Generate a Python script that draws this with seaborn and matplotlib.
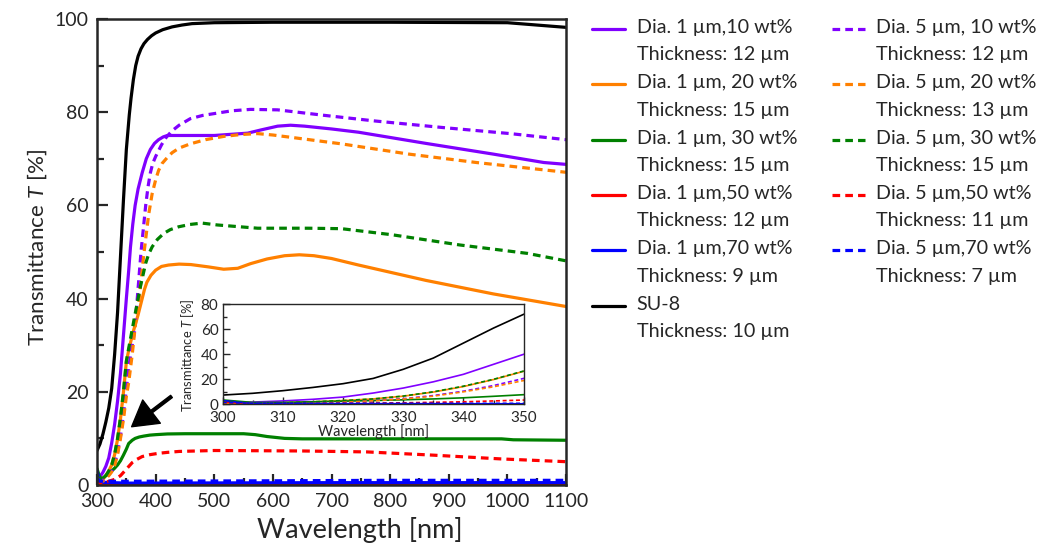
import numpy as np
import seaborn as sns
from matplotlib import pyplot as plt
from matplotlib.legend_handler import HandlerLine2D
from matplotlib.lines import Line2D
from matplotlib.ticker import MultipleLocator

# * wavelength [nm] / transmittance [%]
wl_su8 = [300, 305, 310, 315, 320, 325, 330, 335, 340, 345, 350, 355, 358, 362, 366, 370, 375, 380, 386, 393, 400, 412, 428, 445, 462, 500, 600, 800, 1000, 1040, 1100]
t_su8 = [7.4, 8.8, 10.9, 13.5, 16.5, 20.7, 28, 37, 49, 61, 72, 79.4, 83, 87, 90, 92, 93.6, 94.7, 95.6, 96.4, 97, 97.7, 98.3, 98.7, 99, 99.2, 99.3, 99.3, 99.2, 98.8, 98.2]

wl_p1 = [300, 305, 310, 315, 320, 325, 330, 335, 340, 345, 350, 354, 357, 361, 365, 370, 377, 384, 391, 398, 405, 413, 420, 460, 500, 557, 580, 608, 630, 654, 700, 746, 861, 976, 1062, 1100]
t_p1 = [1.5, 1.8, 2.7, 4, 5.8, 9, 13, 18, 24, 32, 40, 46, 51, 56, 60, 63.5, 67, 70, 72, 73.3, 74.1, 74.7, 75, 75, 75, 75.5, 76.2, 77, 77.2, 77, 76.4, 75.7, 73.3, 71.0, 69.2, 68.8]

wl_o1 = [300, 305, 310, 315, 320, 325, 330, 335, 340, 345, 350, 355, 362, 370, 377, 381, 385, 392, 400, 410, 422, 440, 460, 490, 516, 540, 562, 590, 620, 645, 670, 700, 746, 861, 976, 1100]
t_o1 = [0.8, 0.8, 1.2, 2, 3, 4.3, 6.5, 9.8, 14.2, 19.8, 26.4, 29.5, 33, 36.5, 40, 42, 43.5, 45, 46.1, 46.9, 47.2, 47.4, 47.3, 46.8, 46.3, 46.5, 47.5, 48.5, 49.2, 49.4, 49.2, 48.6, 47.2, 43.9, 41.0, 38.3]

wl_g1 = [300, 305, 310, 315, 320, 325, 330, 335, 340, 345, 350, 354, 360, 365, 372, 380, 390, 400, 420, 450, 550, 570, 590, 620, 650, 990, 1010, 1100]
t_g1 = [3.5, 1.5, 1.5, 2, 2.5, 3, 3.6, 4.3, 5.2, 6.4, 7.7, 8.9, 9.6, 10, 10.3, 10.5, 10.7, 10.8, 10.95, 11, 11, 10.8, 10.4, 10, 9.9, 9.9, 9.7, 9.6]

wl_r1 = [300, 305, 350, 600, 1100]
t_r1 = [2.0, 0.3, 0.2, 0.2, 0.2]

wl_b1 = [300, 305, 350, 700, 1100]
t_b1 = [3.0, 0.6, 0.4, 0.5, 0.5]

wl_p5 = [300, 305, 310, 315, 320, 325, 330, 335, 340, 345, 350, 355, 360, 364, 368, 375, 383, 387, 391, 395, 400, 410, 418, 428, 440, 459, 480, 505, 530, 562, 608, 689, 775, 890, 1005, 1100]
t_p5 = [1, 0.8, 1, 1.5, 2.2, 3, 4.5, 7, 10.5, 15, 20.7, 26, 30, 33, 39, 50, 60, 64, 67, 69, 70.5, 73, 74.6, 76, 77.2, 78.6, 79.3, 79.8, 80.3, 80.6, 80.5, 79.3, 78.1, 76.7, 75.4, 74.1]

wl_o5 = [300, 305, 310, 315, 320, 325, 330, 335, 340, 345, 350, 354, 360, 366, 371, 380, 388, 394, 400, 405, 411, 420, 428, 440, 459, 485, 516, 545, 574, 600, 631, 717, 832, 947, 1100]
t_o5 = [0.8, 0.6, 0.8, 1.3, 2, 2.8, 4.2, 6.5, 10, 14, 19, 22, 28, 35, 39, 49.7, 58, 62.5, 65.5, 67.5, 69, 70.3, 71.3, 72.3, 73.2, 74.1, 74.8, 75.2, 75.4, 75.1, 74.6, 73.2, 71.0, 69.2, 67.1]

wl_g5 = [300, 305, 310, 315, 320, 325, 330, 335, 340, 345, 350, 355, 363, 374, 383, 388, 394, 403, 414, 425, 439, 458, 479, 505, 574, 660, 717, 803, 919, 1034, 1100]
t_g5 = [2, 1, 1.2, 2, 3, 4.3, 6.6, 10, 14.5, 20, 26.6, 30, 35.4, 42.6, 47.6, 49.5, 51.1, 52.7, 54, 54.8, 55.4, 55.9, 56.2, 55.8, 55.1, 55.1, 55.0, 53.7, 51.5, 49.7, 48.1]

wl_r5 = [300, 305, 310, 315, 320, 325, 330, 335, 340, 345, 350, 355, 360, 368, 377, 390, 405, 420, 440, 500, 650, 760, 874, 988, 1100]
t_r5 = [1.5, 0.5, 0.5, 0.6, 0.8, 1, 1.2, 1.6, 2.0, 2.7, 3.4, 4.1, 4.8, 5.5, 6.1, 6.5, 6.8, 7.0, 7.2, 7.4, 7.3, 7.1, 6.4, 5.6, 5.0]

wl_b5 = [300, 305, 350, 600, 800, 1100]
t_b5 = [1.5, 0.8, 0.8, 0.9, 1.0, 1.0]

labels_1um = [
    "Dia. 1 µm,10 wt%\nThickness: 12 µm",
    "Dia. 1 µm, 20 wt%\nThickness: 15 µm",
    "Dia. 1 µm, 30 wt%\nThickness: 15 µm",
    "Dia. 1 µm,50 wt%\nThickness: 12 µm",
    "Dia. 1 µm,70 wt%\nThickness: 9 µm",
]
label_su8 = "SU-8\nThickness: 10 µm"
labels_5um = [
    "Dia. 5 µm, 10 wt%\nThickness: 12 µm",
    "Dia. 5 µm, 20 wt%\nThickness: 13 µm",
    "Dia. 5 µm, 30 wt%\nThickness: 15 µm",
    "Dia. 5 µm,50 wt%\nThickness: 11 µm",
    "Dia. 5 µm,70 wt%\nThickness: 7 µm",
]
colors = ["#8000ff", "#ff8000", "#008000", "#ff0000", "#0000ff"]

series_1um = [(wl_p1, t_p1), (wl_o1, t_o1), (wl_g1, t_g1), (wl_r1, t_r1), (wl_b1, t_b1)]
series_5um = [(wl_p5, t_p5), (wl_o5, t_o5), (wl_g5, t_g5), (wl_r5, t_r5), (wl_b5, t_b5)]

LEG_FS = 14.2
LEG_LS = 1.75


class TopLine(HandlerLine2D):
    # put the legend line next to the first text line, not centred
    def create_artists(self, legend, orig_handle, xdescent, ydescent, width, height, fontsize, trans):
        shift = 2 * 0.6 * fontsize * LEG_LS / 1.7
        return super().create_artists(legend, orig_handle, xdescent, ydescent - shift,
                                      width, height, fontsize, trans)


sns.set_style("ticks")
plt.rcParams["font.family"] = ["Lato", "DejaVu Sans"]
plt.rcParams["mathtext.fontset"] = "custom"
plt.rcParams["mathtext.it"] = "Lato:italic"
plt.rcParams["mathtext.rm"] = "Lato"

fig = plt.figure(figsize=(10.4, 5.5), dpi=100)
ax = fig.add_axes([0.0933, 0.1182, 0.451, 0.8473])
dash = (0, (2.4, 1.6))


def draw(axis, lw, with_label):
    for (x, y), c, lab in zip(series_1um, colors, labels_1um):
        sns.lineplot(x=x, y=y, ax=axis, color=c, lw=lw, estimator=None, sort=False,
                     label=lab if with_label else None)
    sns.lineplot(x=wl_su8, y=t_su8, ax=axis, color="black", lw=lw, estimator=None, sort=False,
                 label=label_su8 if with_label else None)
    for (x, y), c, lab in zip(series_5um, colors, labels_5um):
        sns.lineplot(x=x, y=y, ax=axis, color=c, lw=lw, linestyle=dash, estimator=None, sort=False,
                     label=lab if with_label else None)


draw(ax, 2.3, True)

ax.set_xlim(300, 1100)
ax.set_ylim(0, 100)
ax.xaxis.set_major_locator(MultipleLocator(100))
ax.xaxis.set_minor_locator(MultipleLocator(50))
ax.yaxis.set_major_locator(MultipleLocator(20))
ax.yaxis.set_minor_locator(MultipleLocator(10))
ax.tick_params(which="both", direction="in", labelsize=14, width=1.6, pad=6)
ax.tick_params(which="major", length=8)
ax.tick_params(which="minor", length=5)
for s in ax.spines.values():
    s.set_linewidth(1.8)
ax.set_xlabel("Wavelength [nm]", fontsize=19.5)
ax.set_ylabel("Transmittance $T$ [%]", fontsize=16.2)
ax.xaxis.set_label_coords(0.56, -0.068)
ax.yaxis.set_label_coords(-0.1026, 0.51)

handles, labels = ax.get_legend_handles_labels()
leg = ax.legend(handles, labels, ncol=2, loc="upper left", bbox_to_anchor=(0.552, 0.998),
                bbox_transform=fig.transFigure, frameon=False, fontsize=LEG_FS,
                handlelength=1.67, handletextpad=0.6, columnspacing=1.75, labelspacing=0.55,
                handler_map={Line2D: TopLine()})
for t in leg.get_texts():
    t.set_linespacing(LEG_LS)

# * arrow towards the absorption edge
ax.annotate("", xy=(359, 12.5), xytext=(427, 19),
            arrowprops=dict(facecolor="black", edgecolor="black", width=2.0, headwidth=21, headlength=18))

# * inset: 300-350 nm
axi = fig.add_axes([0.2141, 0.2649, 0.2894, 0.1818])
draw(axi, 1.2, False)
axi.set_xlim(300, 350)
axi.set_ylim(0, 80)
axi.xaxis.set_major_locator(MultipleLocator(10))
axi.xaxis.set_minor_locator(MultipleLocator(5))
axi.yaxis.set_major_locator(MultipleLocator(20))
axi.yaxis.set_minor_locator(MultipleLocator(10))
axi.tick_params(which="both", direction="in", labelsize=11, width=1)
axi.tick_params(axis="x", pad=5)
axi.tick_params(axis="y", pad=3)
axi.tick_params(which="major", length=5)
axi.tick_params(which="minor", length=3)
for s in axi.spines.values():
    s.set_linewidth(1.0)
axi.set_xlabel("Wavelength [nm]", fontsize=10.5, labelpad=-1)
axi.set_ylabel("Transmittance $T$ [%]", fontsize=9.3, labelpad=1)
axi.yaxis.set_label_coords(-0.09, 0.49)

fig.savefig("out.png", dpi=100)
